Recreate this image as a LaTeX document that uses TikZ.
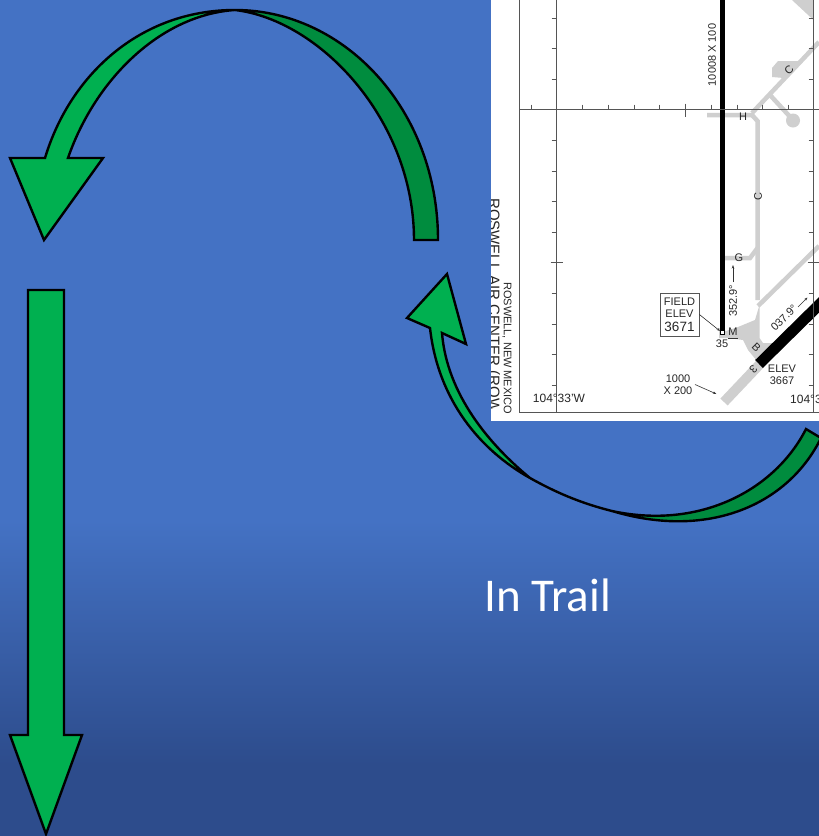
\documentclass[tikz,border=0pt]{standalone}
\usepackage{fontspec}
\setmainfont{Liberation Sans}
\newfontfamily\slidefont{Carlito}
\usetikzlibrary{arrows.meta,calc}

\definecolor{slidetop}{HTML}{4472C4}
\definecolor{slidebot}{HTML}{2D4C8C}
\definecolor{arrowgreen}{HTML}{00B050}
\definecolor{arrowdark}{HTML}{008C3E}
\definecolor{taxigrey}{HTML}{CFCFCF}
\definecolor{gridgrey}{HTML}{555555}

\begin{document}
\begin{tikzpicture}[x=1pt,y=-1pt,
  turn/.style={draw=black,line width=2.4pt,line join=miter,fill=arrowgreen},
  turnback/.style={draw=black,line width=2.4pt,line join=miter,fill=arrowdark},
  grid/.style={gridgrey,line width=0.8pt},
  taxi/.style={taxigrey,line width=4.5pt},
  chart/.style={font=\fontsize{11}{12.5}\selectfont,text=black!85,inner sep=0pt,align=center},
  small/.style={font=\fontsize{11}{12}\selectfont,text=black!85,inner sep=0pt},
  lead/.style={black!80,line width=0.6pt,-{Stealth[length=3.5pt,width=2.5pt]}}]
\useasboundingbox (0,0) rectangle (819,836);

%% ---------- background ----------
\fill[slidetop] (0,0) rectangle (819,521);
\shade[top color=slidetop,bottom color=slidebot] (0,520) rectangle (819,765);
\fill[slidebot] (0,764) rectangle (819,836);

%% ---------- chart ----------
\fill[white] (491,0) rectangle (819,421);

\begin{scope}
\clip (491,0) rectangle (819,421);
% Taxiways
\draw[taxi] (707,115) -- (752,115) -- (757.5,121) -- (757.5,300);
\draw[taxi] (752,113) -- (819,42);
\draw[taxi] (770,95) -- (793,120);
\fill[taxigrey] (793,120.5) circle (7);
\fill[taxigrey] (772,68) -- (778,61) -- (799,61) -- (784,78) -- (772,77) -- cycle;
\fill[taxigrey] (792,0) -- (813.5,0) -- (813.5,20) -- cycle;
\draw[taxi] (725,258) -- (750,258) -- (757.5,248);
\draw[taxi] (758,306) -- (819,246);
% Apron
\fill[taxigrey] (719,328) -- (726,331) -- (738,327) -- (755,320) -- (759.5,305)
  -- (759.5,338) -- (763,343) -- (775,343) -- (765,362) -- (757,361) -- (748,350)
  -- (743,340) -- (728,338) -- (719,338) -- cycle;
% Runways
\draw[taxigrey,line width=10pt] (724,402) -- (760,364);
\draw[black,line width=11pt] (759,364) -- (825,299);
\draw[black,line width=5pt] (722.7,0) -- (722.7,331);
\draw[black,fill=white,line width=0.6pt] (720.5,330.5) rectangle (724.5,334.5);
\end{scope}

% Frame and grid
\draw[grid] (519.3,0) -- (519.3,412) -- (819,412);
\draw[grid] (556.7,0) -- (556.7,412);
\draw[grid] (813.5,0) -- (813.5,412);
\draw[grid] (519.3,109.5) -- (819,109.5);
\foreach \y in {18,48,79,140,171,201,232,293,324,354,385} {
  \draw[grid] (551.5,\y) -- (556.7,\y);
  \draw[grid] (808.5,\y) -- (813.5,\y);
}
\draw[grid] (550.5,262.7) -- (563,262.7);
\draw[grid] (807.5,262.7) -- (819,262.7);
\foreach \x in {531,582.7,608,634,659.7,711,737,762,788}
  \draw[grid] (\x,104.5) -- (\x,109.5);
\draw[grid] (685.3,103.5) -- (685.3,116.5);

% Chart labels
\node[chart,rotate=90] (lenlabel) at (712,55) {10008 X 100};
\node[small] (tH) at (743,117) {H};
\node[small,rotate=45] (tC1) at (789,70) {C};
\node[small,rotate=90] (tC2) at (758,197) {C};
\node[chart] (tG) at (739,258) {G};
\node[chart,rotate=90] (brgA) at (733,301) {352.9°};
\coordinate (brgAa) at (733,282);
\coordinate (brgAb) at (733,265);
\draw[lead] (brgAa) -- (brgAb);
\node[chart,draw=gridgrey,line width=0.8pt,minimum width=39pt,minimum height=43pt]
  (field) at (679.5,314.5) {FIELD\\ELEV\\[1pt]{\fontsize{13.5}{14}\selectfont 3671}};
\coordinate (rwyend) at (720,331);
\draw[lead] (field.east) -- (rwyend);
\node[chart] (tM) at (733,332) {M};
\draw[black!80,line width=0.6pt] (728,338.3) -- (738,338.3);
\node[chart] (t35) at (722,344) {35};
\node[chart,rotate=45] (brgB) at (784,318) {037.9°};
\coordinate (brgBa) at (798,307);
\coordinate (brgBb) at (807.5,297.5);
\draw[lead] (brgBa) -- (brgBb);
\node[small,rotate=-45] (tB) at (756.5,347) {B};
\node[small,rotate=-135] (t3) at (753.5,369.5) {3};
\node[chart] (elev) at (782,375) {ELEV\\3667};
\node[chart] (lights) at (678,384.5) {1000\\X 200};
\coordinate (lightsend) at (716.5,394);
\draw[lead] (695,384.5) -- (lightsend);
\node[chart,font=\fontsize{12}{13}\selectfont] (latL) at (559,398) {104°33’W};
\node[chart,font=\fontsize{12}{13}\selectfont,anchor=west] (latR) at (790,399) {104°33’W};
\node[chart,rotate=-90,anchor=west] (city) at (507,282) {ROSWELL, NEW MEXICO};

\begin{scope}
\clip (491,190) rectangle (519,408);
\node[font=\fontsize{15}{16}\selectfont,text=black!85,inner sep=0pt,rotate=-90,anchor=west]
  (airport) at (493,198) {ROSWELL AIR CENTER (ROW)};
\end{scope}

%% ---------- arrows ----------
% Upper turn
\coordinate (topA) at (235,10);
\draw[turnback] (topA) .. controls (345,10) and (438,110) .. (438,240)
  -- (414,240) .. controls (414,120) and (320,20) .. (topA) -- cycle;
\draw[turn] (topA) .. controls (140,10) and (70,75) .. (45,158)
  -- (10,158) -- (44,240) -- (103,158) -- (68,158)
  .. controls (95,80) and (160,15) .. (topA) -- cycle;

% Lower turn
\coordinate (midB) at (612,511);
\coordinate (neckB) at (530,478);
\draw[turnback] (806,429) .. controls (775,490) and (700,530) .. (midB)
  .. controls (708,540) and (788,505) .. (821,438) -- cycle;
\draw[turn] (midB) .. controls (580,503) and (555,492) .. (neckB)
  .. controls (480,450) and (438,400) .. (430,328)
  -- (407,318) -- (447,274) -- (466,344) -- (442,333)
  .. controls (447,395) and (490,445) .. (neckB)
  .. controls (555,492) and (580,503) .. (midB) -- cycle;

% Straight run
\draw[turn] (28,290) -- (64,290) -- (64,735) -- (82,735) -- (46,834)
  -- (10,735) -- (28,735) -- cycle;

%% ---------- caption ----------
\node[text=white,inner sep=0pt,font=\slidefont\fontsize{47}{50}\selectfont] (caption) at (547.5,595) {In Trail};

\end{tikzpicture}
\end{document}
